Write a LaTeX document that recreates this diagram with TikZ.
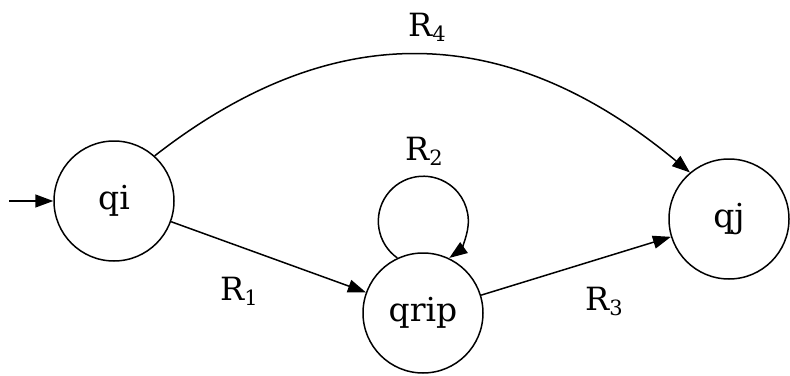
\documentclass[tikz,border=0pt]{standalone}
\usepackage{fontspec}
\setmainfont{DejaVu Serif}
\usetikzlibrary{arrows.meta}
\newcommand\rsub[1]{\raisebox{-5pt}{\fontsize{21}{21}\selectfont #1}}
\begin{document}
\begin{tikzpicture}[x=1pt,y=-1pt,
  state/.style={circle,draw,line width=1.5pt,minimum size=120pt,inner sep=0pt,font=\fontsize{33}{33}\selectfont},
  edge/.style={line width=1.5pt,-{Triangle[length=18pt,width=13pt]}},
  lbl/.style={anchor=base west,inner sep=0pt,font=\fontsize{32}{32}\selectfont}]
\useasboundingbox (0,0) rectangle (790,375);
\node[state] (qi) at (114,201) {qi};
\node[state] (qrip) at (423,313) {qrip};
\node[state] (qj) at (729,219) {qj};
\coordinate (start) at (9,201);
\draw[edge] (start) -- (qi);
\draw[edge] (qi) -- (qrip);
\draw[edge] (qrip) -- (qj);
\draw[edge] (qi.48) .. controls (325,23) and (499,14) .. (qj.130);
\draw[edge] (qrip.115) arc[start angle=125.3, end angle=414.7, radius=45];
\node[lbl] (r4) at (408,36) {R\rsub{4}};
\node[lbl] (r2) at (405,160) {R\rsub{2}};
\node[lbl] (r1) at (220,300) {R\rsub{1}};
\node[lbl] (r3) at (585,310) {R\rsub{3}};
\end{tikzpicture}
\end{document}
